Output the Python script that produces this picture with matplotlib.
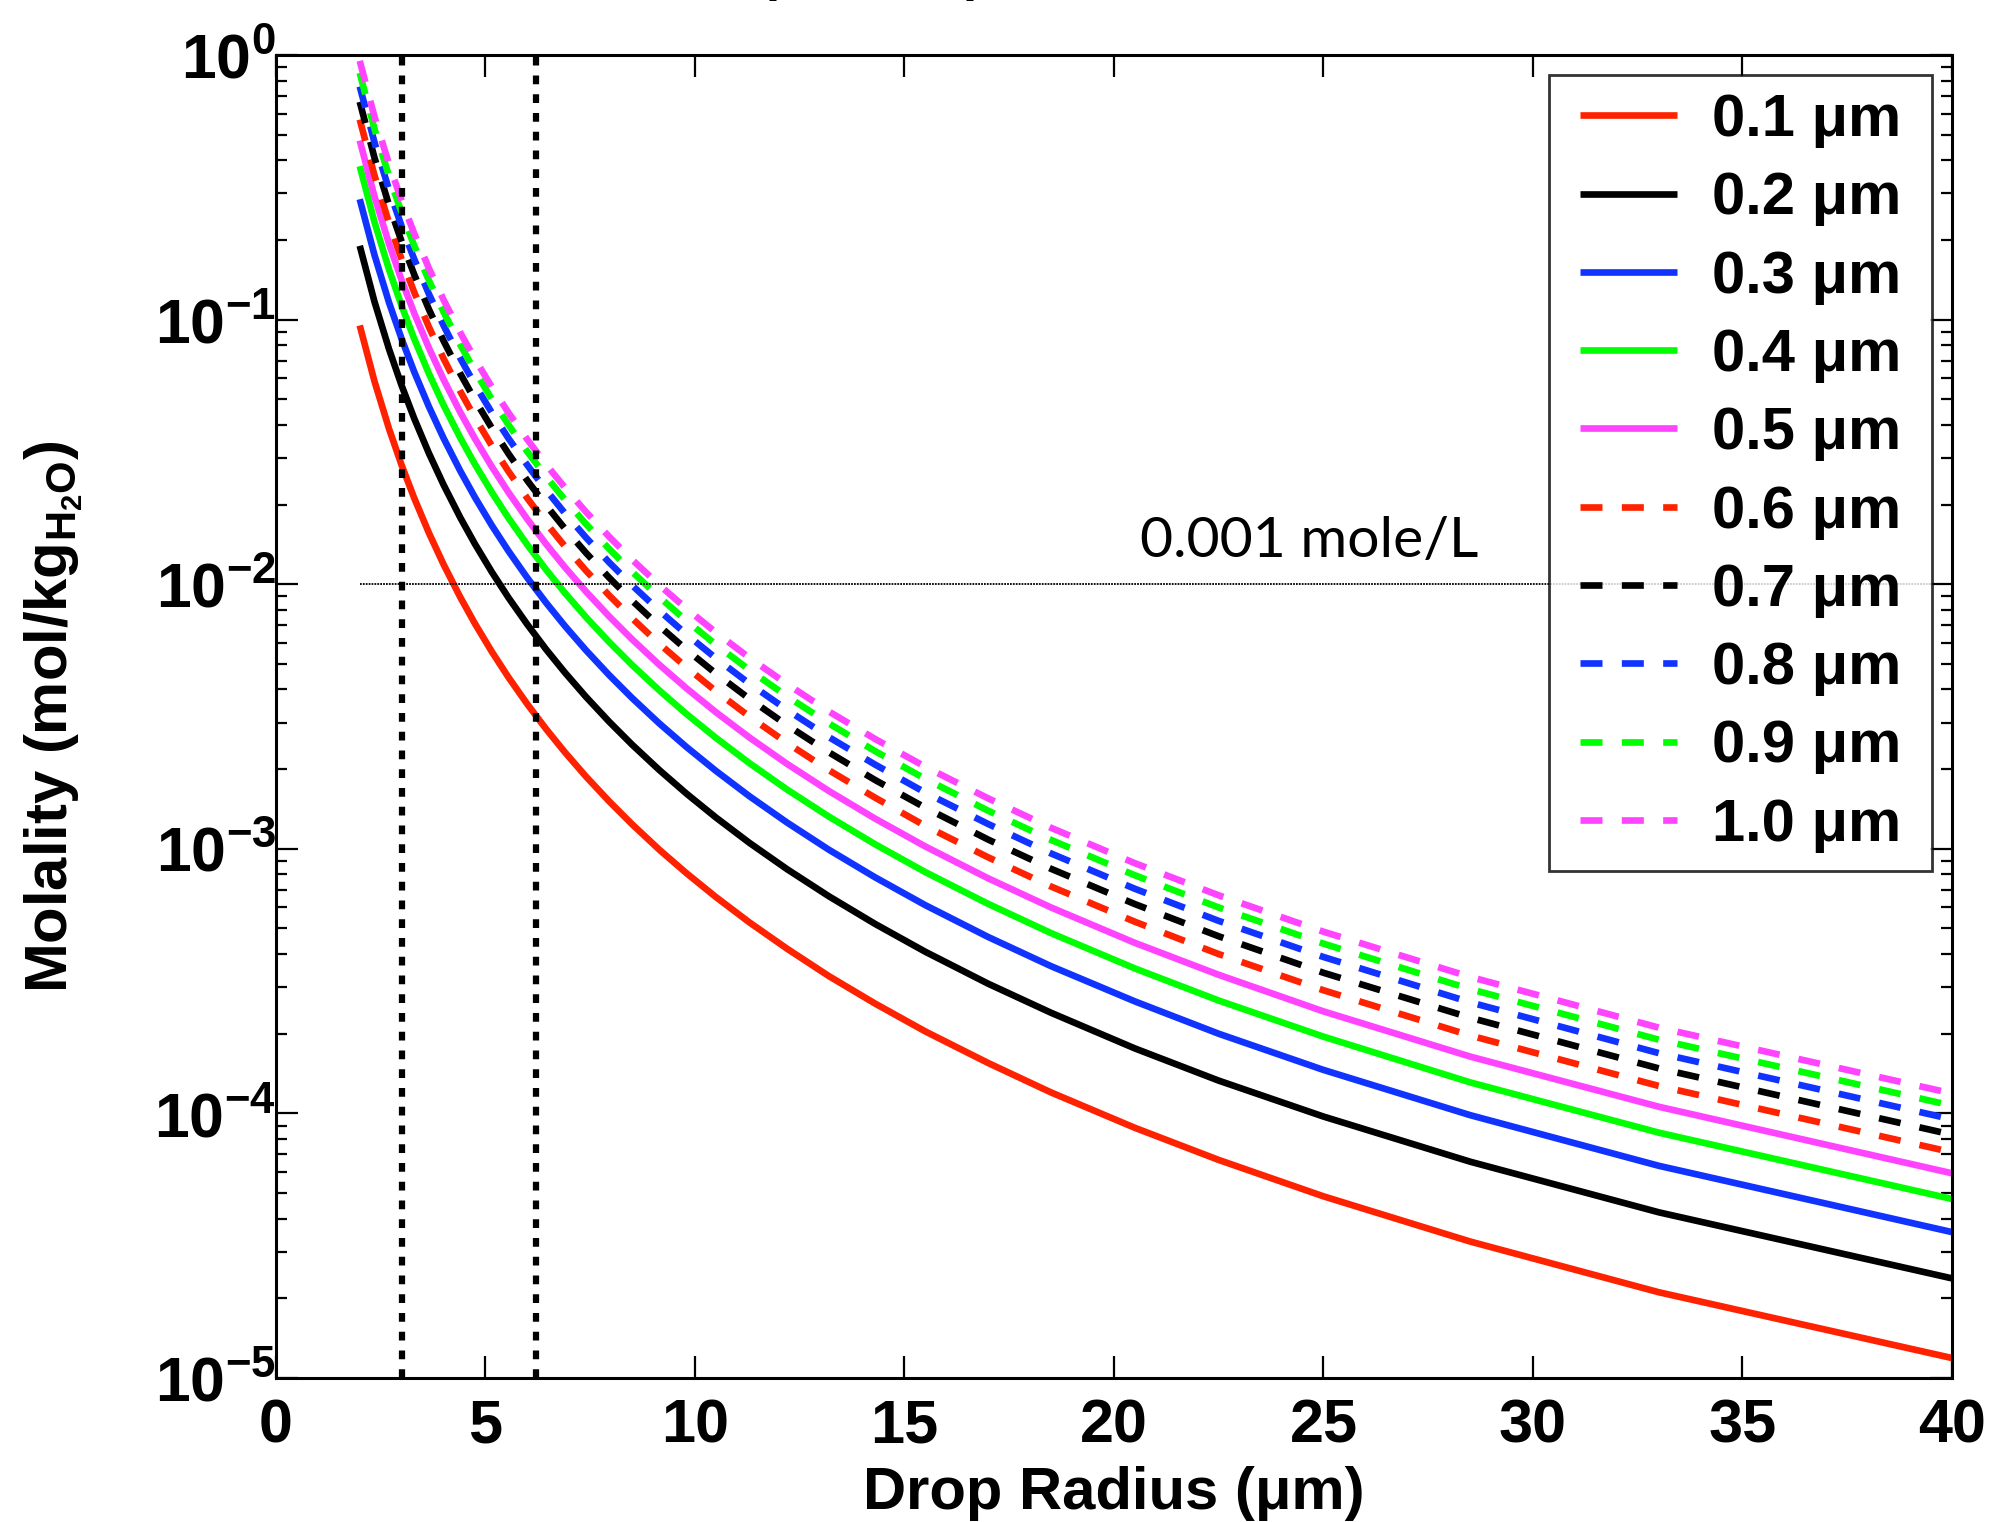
import math
import matplotlib
matplotlib.use("Agg")
import matplotlib.pyplot as plt
from matplotlib.lines import Line2D
from matplotlib.legend_handler import HandlerLine2D
from matplotlib.ticker import FixedLocator, LogLocator, NullLocator, FuncFormatter

plt.rcParams['font.family'] = ['Liberation Sans', 'DejaVu Sans']
plt.rcParams['font.weight'] = 'bold'
plt.rcParams['mathtext.fontset'] = 'custom'
plt.rcParams['mathtext.rm'] = 'Liberation Sans:bold'
plt.rcParams['mathtext.it'] = 'Liberation Sans:bold'
plt.rcParams['mathtext.bf'] = 'Liberation Sans:bold'

# Drop radius (um) where the curves were read
radius = [2, 2.35, 2.7, 3, 3.3, 3.65, 4, 4.4, 4.75, 5.15, 5.55, 6, 6.45, 6.9, 7.4, 7.95, 8.5,
          9.15, 9.8, 10.5, 11.3, 12.2, 13.2, 14.3, 15.5, 17, 18.5, 20.5, 22.5, 25, 28.5, 33, 40]

# Molality, one list per dry particle size
mol_01 = [0.095, 0.05856, 0.03861, 0.02815, 0.02115, 0.01563, 0.01188, 0.008922, 0.007092, 0.005564,
          0.004446, 0.003519, 0.002832, 0.002313, 0.001875, 0.001513, 0.001238, 0.000992, 0.000808,
          0.000657, 0.000527, 0.000419, 0.00033, 0.00026, 0.000204, 0.000155, 0.00012, 8.82e-5,
          6.67e-5, 4.86e-5, 3.28e-5, 2.11e-5, 1.19e-5]
mol_02 = [0.19, 0.1171, 0.07722, 0.0563, 0.0423, 0.03126, 0.02375, 0.01784, 0.01418, 0.01113,
          0.00889, 0.00704, 0.005664, 0.004627, 0.003751, 0.003025, 0.002475, 0.001984, 0.001615,
          0.001313, 0.001053, 0.000837, 0.000661, 0.00052, 0.000408, 0.000309, 0.00024, 0.000176,
          0.000133, 9.73e-5, 6.57e-5, 4.23e-5, 2.38e-5]
mol_03 = [0.285, 0.1757, 0.1158, 0.08445, 0.06344, 0.04689, 0.03563, 0.02677, 0.02128, 0.01669,
          0.01334, 0.01056, 0.008497, 0.00694, 0.005626, 0.004538, 0.003713, 0.002976, 0.002423,
          0.00197, 0.00158, 0.001256, 0.000991, 0.00078, 0.000612, 0.000464, 0.00036, 0.000265,
          0.0002, 0.000146, 9.85e-5, 6.34e-5, 3.56e-5]
mol_04 = [0.38, 0.2342, 0.1544, 0.1126, 0.08459, 0.06252, 0.0475, 0.03569, 0.02837, 0.02226,
          0.01778, 0.01408, 0.01133, 0.009254, 0.007502, 0.00605, 0.00495, 0.003968, 0.00323,
          0.002626, 0.002107, 0.001674, 0.001322, 0.00104, 0.000816, 0.000619, 0.00048, 0.000353,
          0.000267, 0.000195, 0.000131, 8.46e-5, 4.75e-5]
mol_05 = [0.475, 0.2928, 0.1931, 0.1407, 0.1057, 0.07815, 0.05938, 0.04461, 0.03546, 0.02782,
          0.02223, 0.01759, 0.01416, 0.01157, 0.009377, 0.007563, 0.006188, 0.00496, 0.004038,
          0.003283, 0.002634, 0.002093, 0.001652, 0.0013, 0.00102, 0.000773, 0.0006, 0.000441,
          0.000334, 0.000243, 0.000164, 0.000106, 5.94e-5]
mol_06 = [0.57, 0.3513, 0.2317, 0.1689, 0.1269, 0.0938, 0.07125, 0.05353, 0.04255, 0.03338,
          0.02667, 0.02111, 0.01699, 0.01388, 0.01125, 0.00908, 0.00743, 0.00595, 0.00485,
          0.00394, 0.00316, 0.00251, 0.00198, 0.00156, 0.00122, 0.000928, 0.00072, 0.00053,
          0.0004, 0.000292, 0.000197, 0.000127, 7.13e-5]
mol_07 = [0.665, 0.4099, 0.2703, 0.197, 0.148, 0.1094, 0.08313, 0.06245, 0.04964, 0.03895,
          0.03112, 0.02463, 0.01983, 0.01619, 0.01313, 0.01059, 0.008663, 0.006945, 0.005653,
          0.004596, 0.003687, 0.00293, 0.002313, 0.001819, 0.001429, 0.001083, 0.00084, 0.000618,
          0.000467, 0.00034, 0.00023, 0.000148, 8.31e-5]
mol_08 = [0.76, 0.4685, 0.3089, 0.2252, 0.1692, 0.125, 0.095, 0.0714, 0.05674, 0.04452,
          0.03556, 0.02816, 0.02266, 0.01851, 0.015, 0.0121, 0.0099, 0.00794, 0.00646,
          0.00525, 0.00421, 0.00335, 0.00264, 0.00208, 0.00163, 0.00124, 0.00096, 0.000706,
          0.000534, 0.00039, 0.000263, 0.000169, 9.5e-5]
mol_09 = [0.855, 0.527, 0.3475, 0.2533, 0.1903, 0.1407, 0.1069, 0.0803, 0.06382, 0.05008,
          0.04001, 0.03167, 0.02549, 0.02082, 0.01688, 0.01361, 0.01114, 0.008929, 0.007268,
          0.005909, 0.004741, 0.003767, 0.002974, 0.002339, 0.001837, 0.001392, 0.00108, 0.000794,
          0.0006, 0.000438, 0.000295, 0.00019, 0.000107]
mol_10 = [0.95, 0.5856, 0.3861, 0.2815, 0.2115, 0.1563, 0.1188, 0.08922, 0.07092, 0.05564,
          0.04446, 0.03519, 0.02832, 0.02313, 0.01875, 0.01513, 0.01238, 0.00992, 0.00808,
          0.00657, 0.00527, 0.00419, 0.0033, 0.0026, 0.00204, 0.00155, 0.0012, 0.000882,
          0.000667, 0.000486, 0.000328, 0.000211, 0.000119]

labels = ['0.1', '0.2', '0.3', '0.4', '0.5', '0.6', '0.7', '0.8', '0.9', '1.0']
series = [mol_01, mol_02, mol_03, mol_04, mol_05, mol_06, mol_07, mol_08, mol_09, mol_10]
colors = ['#ff2200', 'black', '#1133ff', '#00ff00', '#ff44ff']

# vertical marker lines and the 0.001 mole/L level
marker_radius = [3.0, 6.2]
level = 1e-2
level_start = 2

fig = plt.figure(figsize=(20.01, 15.22), dpi=100)
ax = fig.add_axes([0.1379, 0.0946, 0.8376, 0.8693])

for i, (vals, lab) in enumerate(zip(series, labels)):
    c = colors[i % 5]
    name = lab + ' \u03bcm\u2009'
    if i < 5:
        ax.plot(radius, vals, color=c, lw=4.8, solid_capstyle='butt', label=name)
    else:
        ax.plot(radius, vals, color=c, lw=4.8, dashes=(3.3, 2.9), dash_capstyle='butt', label=name)

for xr in marker_radius:
    ax.axvline(xr, color='black', lw=4.5, dashes=(1.4, 1.6), dash_capstyle='butt')

ax.plot([level_start, 40], [level, level], color='black', lw=1.3, dashes=(1, 0.6))
ax.text(24.65, level * 1.16, '0.001 mole/L', family='Lato', fontweight='normal',
        fontsize=41, ha='center', va='bottom')

ax.set_yscale('log')
ax.set_xlim(0, 40)
ax.set_ylim(1e-5, 1)
ax.xaxis.set_major_locator(FixedLocator([0, 5, 10, 15, 20, 25, 30, 35, 40]))
ax.xaxis.set_minor_locator(NullLocator())
ax.yaxis.set_major_locator(LogLocator(base=10, numticks=10))
ax.yaxis.set_minor_locator(LogLocator(base=10, subs=range(2, 10), numticks=20))
ax.yaxis.set_major_formatter(FuncFormatter(lambda v, p: r'$10^{%d}$' % round(math.log10(v))))

ax.tick_params(which='both', direction='in', top=True, right=True, width=1.6)
ax.tick_params(which='major', length=16, labelsize=44, pad=15)
ax.tick_params(which='minor', length=8)
ax.tick_params(axis='y', which='major', labelsize=45, pad=0)
for sp in ax.spines.values():
    sp.set_linewidth(2.2)

ax.set_xlabel('Drop Radius (\u03bcm)', fontsize=43, fontweight='bold', labelpad=7)
ax.set_ylabel(r'Molality (mol/kg$_{H_2O}$)', fontsize=43, fontweight='bold')
ax.yaxis.set_label_coords(-0.114, 0.5)

leg = ax.legend(loc='upper right', fontsize=43, frameon=True, fancybox=False,
                handlelength=1.84, handletextpad=0.6, labelspacing=0.39,
                borderpad=0.3, borderaxespad=0.34,
                handler_map={Line2D: HandlerLine2D(xpad=0.22)})
leg.get_frame().set_edgecolor('black')
leg.get_frame().set_linewidth(2.0)
for t in leg.get_texts():
    t.set_fontweight('bold')

# title clipped by the top edge; only the subscripts show
fig.text(0.49, 1.0 + 11 / 1522, r'NH$_4$HSO$_4$', fontsize=55, ha='right', va='baseline')

fig.savefig('out.png', dpi=100)
